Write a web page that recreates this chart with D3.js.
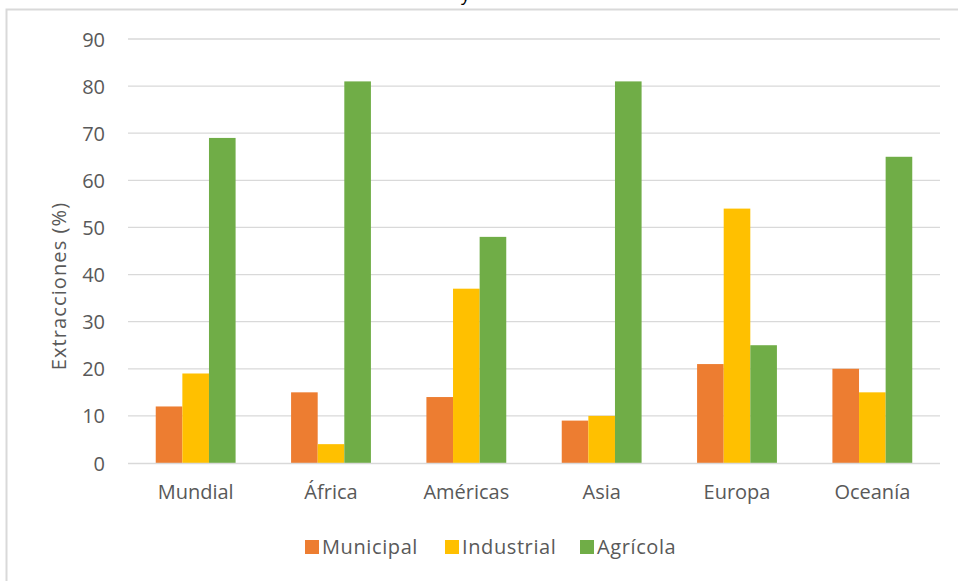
<!DOCTYPE html>
<html>
<head>
<meta charset="utf-8">
<script src="https://cdn.jsdelivr.net/npm/d3@7"></script>
<style>
  body { margin: 0; background: #fff; }
  text { font-family: "Open Sans", sans-serif; fill: #595959; }
</style>
</head>
<body>
<svg id="chart" width="958" height="581"></svg>
<script>
var regions = ['Mundial', 'África', 'Américas', 'Asia', 'Europa', 'Oceanía'],
    sectors = ['Municipal', 'Industrial', 'Agrícola'],
    municipal = [12, 15, 14, 9, 21, 20],
    industrial = [19, 4, 37, 10, 54, 15],
    agricola = [69, 81, 48, 81, 25, 65],
    yTicks = [0, 10, 20, 30, 40, 50, 60, 70, 80, 90],
    colors = ['#ED7D31', '#FFC000', '#70AD47'];

var svg = d3.select('#chart'),
    series = [municipal, industrial, agricola],
    plotLeft = 128, plotRight = 940, plotTop = 39, plotBottom = 463;

// frame of the chart area (cut at right/bottom in the original)
svg.append('path')
    .attr('d', 'M6.5,581 V9.5 H958')
    .attr('fill', 'none')
    .attr('stroke', '#d9d9d9')
    .attr('stroke-width', 2);

// remains of the cut-off title
svg.append('text')
    .attr('x', 461).attr('y', 1)
    .attr('font-size', 18)
    .style('fill', '#000')
    .text('y');

var x = d3.scaleBand().domain(regions).range([plotLeft, plotRight]).paddingInner(0.41).paddingOuter(0.205),
    xs = d3.scaleBand().domain(sectors).range([0, x.bandwidth()]),
    y = d3.scaleLinear().domain([0, 90]).range([plotBottom, plotTop]);

// gridlines
svg.append('g').selectAll('line')
    .data(yTicks.slice(1))
    .enter().append('line')
    .attr('x1', plotLeft).attr('x2', plotRight)
    .attr('y1', function (d) { return y(d); })
    .attr('y2', function (d) { return y(d); })
    .attr('stroke', '#d9d9d9')
    .attr('stroke-width', 1.3);

// bars
var groups = svg.append('g').selectAll('g')
    .data(sectors)
    .enter().append('g')
    .attr('fill', function (d, i) { return colors[i]; });

groups.selectAll('rect')
    .data(function (d, i) {
        return regions.map(function (r, j) { return {region: r, sector: d, value: series[i][j]}; });
    })
    .enter().append('rect')
    .attr('x', function (d) { return x(d.region) + xs(d.sector); })
    .attr('width', xs.bandwidth())
    .attr('y', function (d) { return y(d.value); })
    .attr('height', function (d) { return plotBottom - y(d.value); });

// x axis line
svg.append('line')
    .attr('x1', plotLeft).attr('x2', plotRight)
    .attr('y1', plotBottom + 0.5).attr('y2', plotBottom + 0.5)
    .attr('stroke', '#d9d9d9')
    .attr('stroke-width', 1.3);

// y axis
var yAxis = svg.append('g')
    .attr('transform', 'translate(' + (plotLeft - 23) + ',0)')
    .call(d3.axisLeft(y).tickValues(yTicks).tickSize(0).tickPadding(0));
yAxis.select('.domain').remove();
yAxis.selectAll('text').attr('font-size', 20).attr('dy', '0.35em')
    .style('font-family', '"Open Sans", sans-serif').style('fill', '#595959');

// x axis labels
var xAxis = svg.append('g')
    .attr('transform', 'translate(0,' + plotBottom + ')')
    .call(d3.axisBottom(x).tickSize(0).tickPadding(22));
xAxis.select('.domain').remove();
xAxis.selectAll('text').attr('font-size', 20)
    .style('font-family', '"Open Sans", sans-serif').style('fill', '#595959');

// y axis title
svg.append('text')
    .attr('transform', 'translate(66,286) rotate(-90)')
    .attr('text-anchor', 'middle')
    .attr('font-size', 20)
    .attr('letter-spacing', 1.1)
    .text('Extracciones (%)');

// legend
var legendX = [305, 445, 580];
var legend = svg.append('g').selectAll('g')
    .data(sectors)
    .enter().append('g')
    .attr('transform', function (d, i) { return 'translate(' + legendX[i] + ',540)'; });
legend.append('rect')
    .attr('width', 14).attr('height', 14)
    .attr('fill', function (d, i) { return colors[i]; });
legend.append('text')
    .attr('x', 17).attr('y', 14)
    .attr('font-size', 20)
    .attr('letter-spacing', 0.6)
    .text(function (d) { return d; });
</script>
</body>
</html>
